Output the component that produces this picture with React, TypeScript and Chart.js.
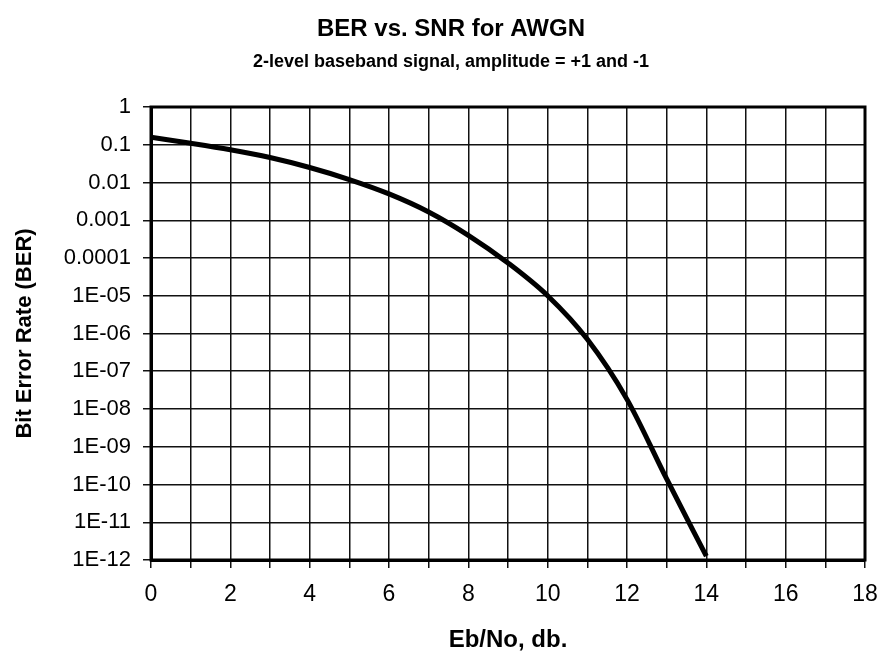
import React, { useEffect, useRef } from "react";
import { Chart, registerables } from "chart.js";

Chart.register(...registerables);

// ---- Data ----
const ebNoDb: number[] = [0, 1, 2, 3, 4, 5, 6, 7, 8, 9, 10, 11, 12, 13, 14];
const berValues: number[] = [
  0.158, 0.11, 0.074, 0.046, 0.025, 0.012, 0.005, 0.00166, 0.0004, 0.000074,
  0.00001, 7e-7, 1.8e-8, 1.4e-10, 1.26e-12,
];
const yTickValues: number[] = [
  1, 0.1, 0.01, 0.001, 0.0001, 1e-5, 1e-6, 1e-7, 1e-8, 1e-9, 1e-10, 1e-11, 1e-12,
];
const yTickLabels: string[] = [
  "1", "0.1", "0.01", "0.001", "0.0001", "1E-05", "1E-06", "1E-07", "1E-08",
  "1E-09", "1E-10", "1E-11", "1E-12",
];
const xTickLabels: string[] = ["0", "2", "4", "6", "8", "10", "12", "14", "16", "18"];

const titleText = "BER vs. SNR for AWGN";
const subtitleText = "2-level baseband signal, amplitude = +1 and -1";
const xTitle = "Eb/No, db.";
const yTitle = "Bit Error Rate (BER)";

const FONT = '"Liberation Sans", Arial, Helvetica, sans-serif';

export default function App() {
  const canvasRef = useRef<HTMLCanvasElement | null>(null);

  useEffect(() => {
    document.body.style.margin = "0";
    const canvas = canvasRef.current;
    if (!canvas) return;

    const titlesPlugin = {
      id: "titlesPlugin",
      afterDraw(chart: any) {
        const ctx = chart.ctx;
        ctx.save();
        ctx.fillStyle = "#000";
        ctx.textAlign = "center";
        ctx.textBaseline = "middle";
        ctx.font = `bold 24px ${FONT}`;
        ctx.fillText(titleText, 451, 29);
        ctx.font = `bold 18px ${FONT}`;
        ctx.fillText(subtitleText, 451, 62);
        ctx.restore();
      },
    };

    const framePlugin = {
      id: "framePlugin",
      afterDatasetsDraw(chart: any) {
        const { ctx, chartArea } = chart;
        ctx.save();
        ctx.strokeStyle = "#000";
        ctx.lineWidth = 3;
        ctx.strokeRect(
          chartArea.left,
          chartArea.top,
          chartArea.right - chartArea.left,
          chartArea.bottom - chartArea.top
        );
        ctx.restore();
      },
    };

    const chart = new Chart(canvas, {
      type: "line",
      data: {
        datasets: [
          {
            label: "BER",
            data: ebNoDb.map((x, i) => ({ x, y: berValues[i] })),
            borderColor: "#000",
            borderWidth: 5,
            pointRadius: 0,
            cubicInterpolationMode: "monotone",
            fill: false,
          },
        ],
      },
      options: {
        responsive: false,
        animation: false,
        devicePixelRatio: 1,
        layout: { padding: { top: 107, right: 17, left: 0, bottom: 0 } },
        plugins: {
          legend: { display: false },
          tooltip: { enabled: false },
          title: { display: false },
        },
        scales: {
          x: {
            type: "linear",
            min: 0,
            max: 18,
            afterFit(scale: any) {
              scale.height = 101;
              scale.paddingLeft = 0;
              scale.paddingRight = 0;
            },
            ticks: {
              stepSize: 1,
              autoSkip: false,
              maxRotation: 0,
              padding: 13,
              color: "#000",
              font: { family: FONT, size: 23 },
              callback: (v: any) => {
                const n = Number(v);
                return n % 2 === 0 ? xTickLabels[n / 2] : "";
              },
            },
            grid: {
              color: "#111",
              lineWidth: 1.5,
              tickLength: 8,
              drawTicks: true,
            },
            border: { display: true, color: "#000", width: 3 },
            title: {
              display: true,
              text: xTitle,
              color: "#000",
              font: { family: FONT, size: 24, weight: "bold" },
              padding: { top: 4, bottom: 6 },
            },
          },
          y: {
            type: "logarithmic",
            min: 1e-12,
            max: 1,
            afterFit(scale: any) {
              scale.width = 151;
              scale.paddingTop = 0;
              scale.paddingBottom = 0;
            },
            afterBuildTicks(scale: any) {
              scale.ticks = yTickValues.map((value) => ({ value }));
            },
            ticks: {
              autoSkip: false,
              padding: 12,
              color: "#000",
              font: { family: FONT, size: 22 },
              callback: (v: any) => {
                const idx = yTickValues.findIndex(
                  (t) => Math.abs(Math.log10(t) - Math.log10(Number(v))) < 1e-6
                );
                return idx >= 0 ? yTickLabels[idx] : "";
              },
            },
            grid: {
              color: "#111",
              lineWidth: 1.5,
              tickLength: 8,
              drawTicks: true,
            },
            border: { display: true, color: "#000", width: 3 },
            title: {
              display: true,
              text: yTitle,
              color: "#000",
              font: { family: FONT, size: 22, weight: "bold" },
              padding: { top: 12, bottom: 0 },
            },
          },
        },
      },
      plugins: [titlesPlugin, framePlugin],
    } as any);

    return () => {
      chart.destroy();
    };
  }, []);

  return (
    <div style={{ width: 882, height: 661 }}>
      <canvas ref={canvasRef} width={882} height={661} style={{ display: "block" }} />
    </div>
  );
}
